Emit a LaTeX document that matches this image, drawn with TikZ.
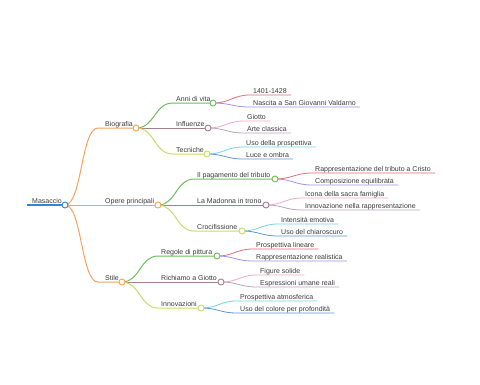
\documentclass[tikz,border=0pt]{standalone}
\usepackage{fontspec}
\setmainfont{Liberation Sans}
\pgfdeclarelayer{bg}
\pgfsetlayers{bg,main}
\definecolor{txt}{HTML}{3A3A3A}
\definecolor{corange}{HTML}{F5A25D}
\definecolor{cblue}{HTML}{2F86D8}
\definecolor{cgreen}{HTML}{6CBF5B}
\definecolor{cmauve}{HTML}{A3808F}
\definecolor{cyel}{HTML}{CBD96B}
\definecolor{cred}{HTML}{E46A78}
\definecolor{cpurp}{HTML}{9C93E3}
\definecolor{cpink}{HTML}{F2A7C6}
\definecolor{cgray}{HTML}{B5A6B5}
\definecolor{ccyan}{HTML}{72D3E3}
\definecolor{cblueb}{HTML}{5A96D6}
\begin{document}
\begin{tikzpicture}[x=1pt,y=-1pt,
 lbl/.style={anchor=base west, inner sep=0pt, font=\fontsize{7}{8}\selectfont, text=txt},
 dot/.style={circle, draw, fill=white, minimum size=6pt, inner sep=0pt, line width=0.9pt},
 br/.style={line width=1pt},
 lf/.style={line width=0.8pt}]
\useasboundingbox (0,0) rectangle (480,384);

% ---------- circles ----------
\node[dot,draw=cblue] (dRoot) at (65,205) {};
\node[dot,draw=corange] (dBio) at (136,128) {};
\node[dot,draw=corange] (dOpe) at (158,205) {};
\node[dot,draw=corange] (dSti) at (122,282) {};
\node[dot,draw=cgreen] (dAnn) at (213,103) {};
\node[dot,draw=cmauve] (dInf) at (208,128) {};
\node[dot,draw=cyel] (dTec) at (207,154) {};
\node[dot,draw=cgreen] (dPag) at (275,179) {};
\node[dot,draw=cmauve] (dMad) at (266,205) {};
\node[dot,draw=cyel] (dCro) at (242,231) {};
\node[dot,draw=cgreen] (dReg) at (217,256) {};
\node[dot,draw=cmauve] (dRic) at (221,282) {};
\node[dot,draw=cyel] (dInn) at (201,308) {};

% ---------- level 0-2 texts ----------
\node[lbl] (tRoot) at (32,203.5) {Masaccio};
\node[lbl] (tBio) at (105,126.5) {Biografia};
\node[lbl] (tOpe) at (105,203.5) {Opere principali};
\node[lbl] (tSti) at (105,280.5) {Stile};
\node[lbl] (tAnn) at (176,101.5) {Anni di vita};
\node[lbl] (tInf) at (176,126.5) {Influenze};
\node[lbl] (tTec) at (176,152.5) {Tecniche};
\node[lbl] (tPag) at (197,177.5) {Il pagamento del tributo};
\node[lbl] (tMad) at (197,203.5) {La Madonna in trono};
\node[lbl] (tCro) at (197,229.5) {Crocifissione};
\node[lbl] (tReg) at (161,254.5) {Regole di pittura};
\node[lbl] (tRic) at (161,280.5) {Richiamo a Giotto};
\node[lbl] (tInn) at (161,306.5) {Innovazioni};

% ---------- leaves ----------
\node[lbl] (l1) at (253,93.5) {1401-1428};
\node[lbl] (l2) at (253,105.5) {Nascita a San Giovanni Valdarno};
\node[lbl] (l3) at (247,119.5) {Giotto};
\node[lbl] (l4) at (247,131.5) {Arte classica};
\node[lbl] (l5) at (246,145.5) {Uso della prospettiva};
\node[lbl] (l6) at (246,157.5) {Luce e ombra};
\node[lbl] (l7) at (315,171.5) {Rappresentazione del tributo a Cristo};
\node[lbl] (l8) at (315,183.5) {Composizione equilibrata};
\node[lbl] (l9) at (305,196.5) {Icona della sacra famiglia};
\node[lbl] (l10) at (305,208.5) {Innovazione nella rappresentazione};
\node[lbl] (l11) at (281,222.5) {Intensità emotiva};
\node[lbl] (l12) at (281,234.5) {Uso del chiaroscuro};
\node[lbl] (l13) at (256,247.5) {Prospettiva lineare};
\node[lbl] (l14) at (256,259.5) {Rappresentazione realistica};
\node[lbl] (l15) at (260,273.5) {Figure solide};
\node[lbl] (l16) at (260,285.5) {Espressioni umane reali};
\node[lbl] (l17) at (240,299.5) {Prospettiva atmosferica};
\node[lbl] (l18) at (240,311.5) {Uso del colore per profondità};

\begin{pgfonlayer}{bg}
% root underline
\draw[line width=1.2pt,cblue] ([xshift=-5pt,yshift=-1.5pt]tRoot.base west) -- (dRoot.center);
% level 1
\draw[br,corange] (dRoot.center) .. controls +(17,0) and +(-17,0) .. ([xshift=-7pt,yshift=-1.5pt]tBio.base west) -- (dBio.center);
\draw[br,corange] (dRoot.center) -- (dOpe.center);
\draw[br,corange] (dRoot.center) .. controls +(17,0) and +(-17,0) .. ([xshift=-7pt,yshift=-1.5pt]tSti.base west) -- (dSti.center);
% level 2
\draw[br,cgreen] (dBio.center) .. controls +(19,0) and +(-19,0) .. ([xshift=-3pt,yshift=-1.5pt]tAnn.base west) -- (dAnn.center);
\draw[br,cmauve] (dBio.center) -- (dInf.center);
\draw[br,cyel] (dBio.center) .. controls +(19,0) and +(-19,0) .. ([xshift=-3pt,yshift=-1.5pt]tTec.base west) -- (dTec.center);
\draw[br,cgreen] (dOpe.center) .. controls +(18,0) and +(-18,0) .. ([xshift=-3pt,yshift=-1.5pt]tPag.base west) -- (dPag.center);
\draw[br,cmauve] (dOpe.center) -- (dMad.center);
\draw[br,cyel] (dOpe.center) .. controls +(18,0) and +(-18,0) .. ([xshift=-3pt,yshift=-1.5pt]tCro.base west) -- (dCro.center);
\draw[br,cgreen] (dSti.center) .. controls +(18,0) and +(-18,0) .. ([xshift=-3pt,yshift=-1.5pt]tReg.base west) -- (dReg.center);
\draw[br,cmauve] (dSti.center) -- (dRic.center);
\draw[br,cyel] (dSti.center) .. controls +(18,0) and +(-18,0) .. ([xshift=-3pt,yshift=-1.5pt]tInn.base west) -- (dInn.center);
% level 3
\draw[lf,cred] (dAnn.center) .. controls +(17,0) and +(-17,0) .. ([xshift=-3pt,yshift=-1.5pt]l1.base west) -- ([xshift=4pt,yshift=-1.5pt]l1.base east);
\draw[lf,cpurp] (dAnn.center) .. controls +(17,0) and +(-17,0) .. ([xshift=-3pt,yshift=-1.5pt]l2.base west) -- ([xshift=4pt,yshift=-1.5pt]l2.base east);
\draw[lf,cpink] (dInf.center) .. controls +(17,0) and +(-17,0) .. ([xshift=-3pt,yshift=-1.5pt]l3.base west) -- ([xshift=4pt,yshift=-1.5pt]l3.base east);
\draw[lf,cgray] (dInf.center) .. controls +(17,0) and +(-17,0) .. ([xshift=-3pt,yshift=-1.5pt]l4.base west) -- ([xshift=4pt,yshift=-1.5pt]l4.base east);
\draw[lf,ccyan] (dTec.center) .. controls +(17,0) and +(-17,0) .. ([xshift=-3pt,yshift=-1.5pt]l5.base west) -- ([xshift=4pt,yshift=-1.5pt]l5.base east);
\draw[lf,cblueb] (dTec.center) .. controls +(17,0) and +(-17,0) .. ([xshift=-3pt,yshift=-1.5pt]l6.base west) -- ([xshift=4pt,yshift=-1.5pt]l6.base east);
\draw[lf,cred] (dPag.center) .. controls +(17,0) and +(-17,0) .. ([xshift=-3pt,yshift=-1.5pt]l7.base west) -- ([xshift=4pt,yshift=-1.5pt]l7.base east);
\draw[lf,cpurp] (dPag.center) .. controls +(17,0) and +(-17,0) .. ([xshift=-3pt,yshift=-1.5pt]l8.base west) -- ([xshift=4pt,yshift=-1.5pt]l8.base east);
\draw[lf,cpink] (dMad.center) .. controls +(17,0) and +(-17,0) .. ([xshift=-3pt,yshift=-1.5pt]l9.base west) -- ([xshift=4pt,yshift=-1.5pt]l9.base east);
\draw[lf,cgray] (dMad.center) .. controls +(17,0) and +(-17,0) .. ([xshift=-3pt,yshift=-1.5pt]l10.base west) -- ([xshift=4pt,yshift=-1.5pt]l10.base east);
\draw[lf,ccyan] (dCro.center) .. controls +(17,0) and +(-17,0) .. ([xshift=-3pt,yshift=-1.5pt]l11.base west) -- ([xshift=4pt,yshift=-1.5pt]l11.base east);
\draw[lf,cblueb] (dCro.center) .. controls +(17,0) and +(-17,0) .. ([xshift=-3pt,yshift=-1.5pt]l12.base west) -- ([xshift=4pt,yshift=-1.5pt]l12.base east);
\draw[lf,cred] (dReg.center) .. controls +(17,0) and +(-17,0) .. ([xshift=-3pt,yshift=-1.5pt]l13.base west) -- ([xshift=4pt,yshift=-1.5pt]l13.base east);
\draw[lf,cpurp] (dReg.center) .. controls +(17,0) and +(-17,0) .. ([xshift=-3pt,yshift=-1.5pt]l14.base west) -- ([xshift=4pt,yshift=-1.5pt]l14.base east);
\draw[lf,cpink] (dRic.center) .. controls +(17,0) and +(-17,0) .. ([xshift=-3pt,yshift=-1.5pt]l15.base west) -- ([xshift=4pt,yshift=-1.5pt]l15.base east);
\draw[lf,cgray] (dRic.center) .. controls +(17,0) and +(-17,0) .. ([xshift=-3pt,yshift=-1.5pt]l16.base west) -- ([xshift=4pt,yshift=-1.5pt]l16.base east);
\draw[lf,ccyan] (dInn.center) .. controls +(17,0) and +(-17,0) .. ([xshift=-3pt,yshift=-1.5pt]l17.base west) -- ([xshift=4pt,yshift=-1.5pt]l17.base east);
\draw[lf,cblueb] (dInn.center) .. controls +(17,0) and +(-17,0) .. ([xshift=-3pt,yshift=-1.5pt]l18.base west) -- ([xshift=4pt,yshift=-1.5pt]l18.base east);
\end{pgfonlayer}
\end{tikzpicture}
\end{document}
